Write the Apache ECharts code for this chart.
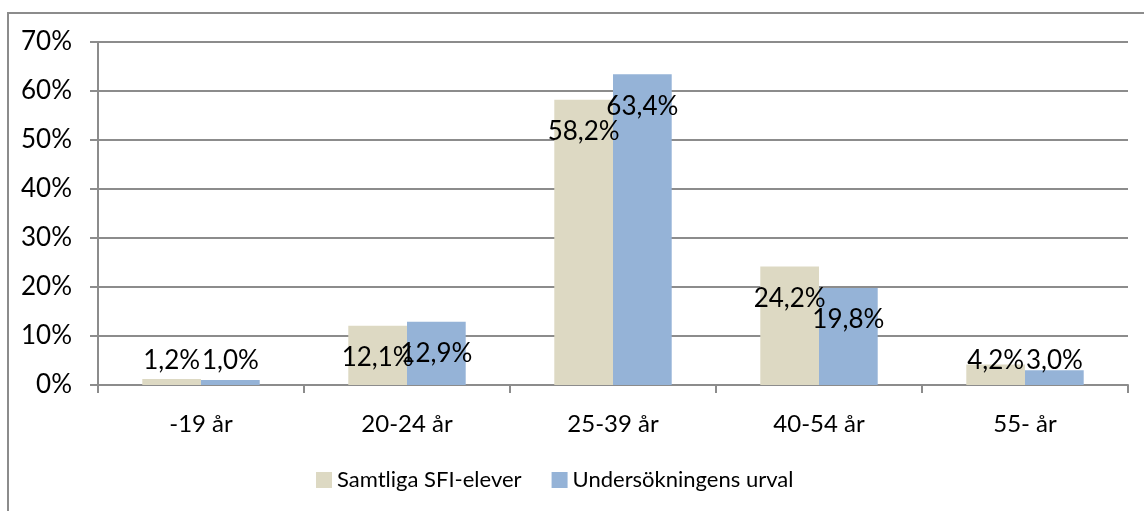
<!DOCTYPE html>
<html>
<head>
<meta charset="utf-8">
<script src="https://cdn.jsdelivr.net/npm/echarts@6/dist/echarts.min.js"></script>
<style>
  html, body { margin: 0; padding: 0; background: #fff; }
  #chart { width: 1144px; height: 511px; }
</style>
</head>
<body>
<div id="chart"></div>
<script>
// age groups and shares (%)
const categories = ['-19 år', '20-24 år', '25-39 år', '40-54 år', '55- år'];
const allStudents = [1.2, 12.1, 58.2, 24.2, 4.2];
const surveySample = [1.0, 12.9, 63.4, 19.8, 3.0];
const seriesNames = ['Samtliga SFI-elever', 'Undersökningens urval'];

const FONT = 'Lato';
const gray = '#8c8c8c';
const beige = '#ddd9c3';
const blue = '#95b3d7';

const fmt = (p) => p.value.toFixed(1).replace('.', ',') + '%';

// labels sit just inside the bar top, but never lower than a fixed line above the axis
const placeLabel = (params) => {
  const r = params.rect;
  return {
    x: r.x + r.width / 2,
    y: Math.min(r.y + 32, r.y + r.height - 24),
    align: 'center',
    verticalAlign: 'middle',
  };
};

const chart = echarts.init(document.getElementById('chart'));

const barSeries = (name, data, color) => ({
  name,
  type: 'bar',
  data,
  barGap: '0%',
  barCategoryGap: '43%',
  itemStyle: { color },
  label: {
    show: true,
    formatter: fmt,
    color: '#000',
    fontFamily: FONT,
    fontSize: 26,
  },
  labelLayout: placeLabel,
});

chart.setOption({
  animation: false,
  backgroundColor: '#fff',
  textStyle: { fontFamily: FONT },
  graphic: [
    {
      type: 'rect',
      shape: { x: 8, y: 13, width: 1300, height: 700 },
      style: { fill: 'none', stroke: gray, lineWidth: 2 },
      silent: true,
    },
  ],
  grid: { left: 98, right: 16, top: 42, bottom: 126 },
  legend: {
    left: 316,
    top: 469,
    padding: 0,
    itemWidth: 16,
    itemHeight: 16,
    itemGap: 30,
    icon: 'rect',
    textStyle: { fontFamily: FONT, fontSize: 22, color: '#000' },
    data: seriesNames,
  },
  xAxis: {
    type: 'category',
    data: categories,
    axisLine: { lineStyle: { color: gray, width: 2 } },
    axisTick: { show: true, length: 8, lineStyle: { color: gray, width: 2 } },
    axisLabel: { color: '#000', fontFamily: FONT, fontSize: 24, margin: 27 },
  },
  yAxis: {
    type: 'value',
    min: 0,
    max: 70,
    interval: 10,
    axisLine: { show: true, lineStyle: { color: gray, width: 2 } },
    axisTick: { show: true, length: 8, lineStyle: { color: gray, width: 2 } },
    axisLabel: { color: '#000', fontFamily: FONT, fontSize: 26, margin: 26, formatter: '{value}%' },
    splitLine: { lineStyle: { color: gray, width: 2 } },
  },
  series: [
    barSeries(seriesNames[0], allStudents, beige),
    barSeries(seriesNames[1], surveySample, blue),
  ],
});
</script>
</body>
</html>
